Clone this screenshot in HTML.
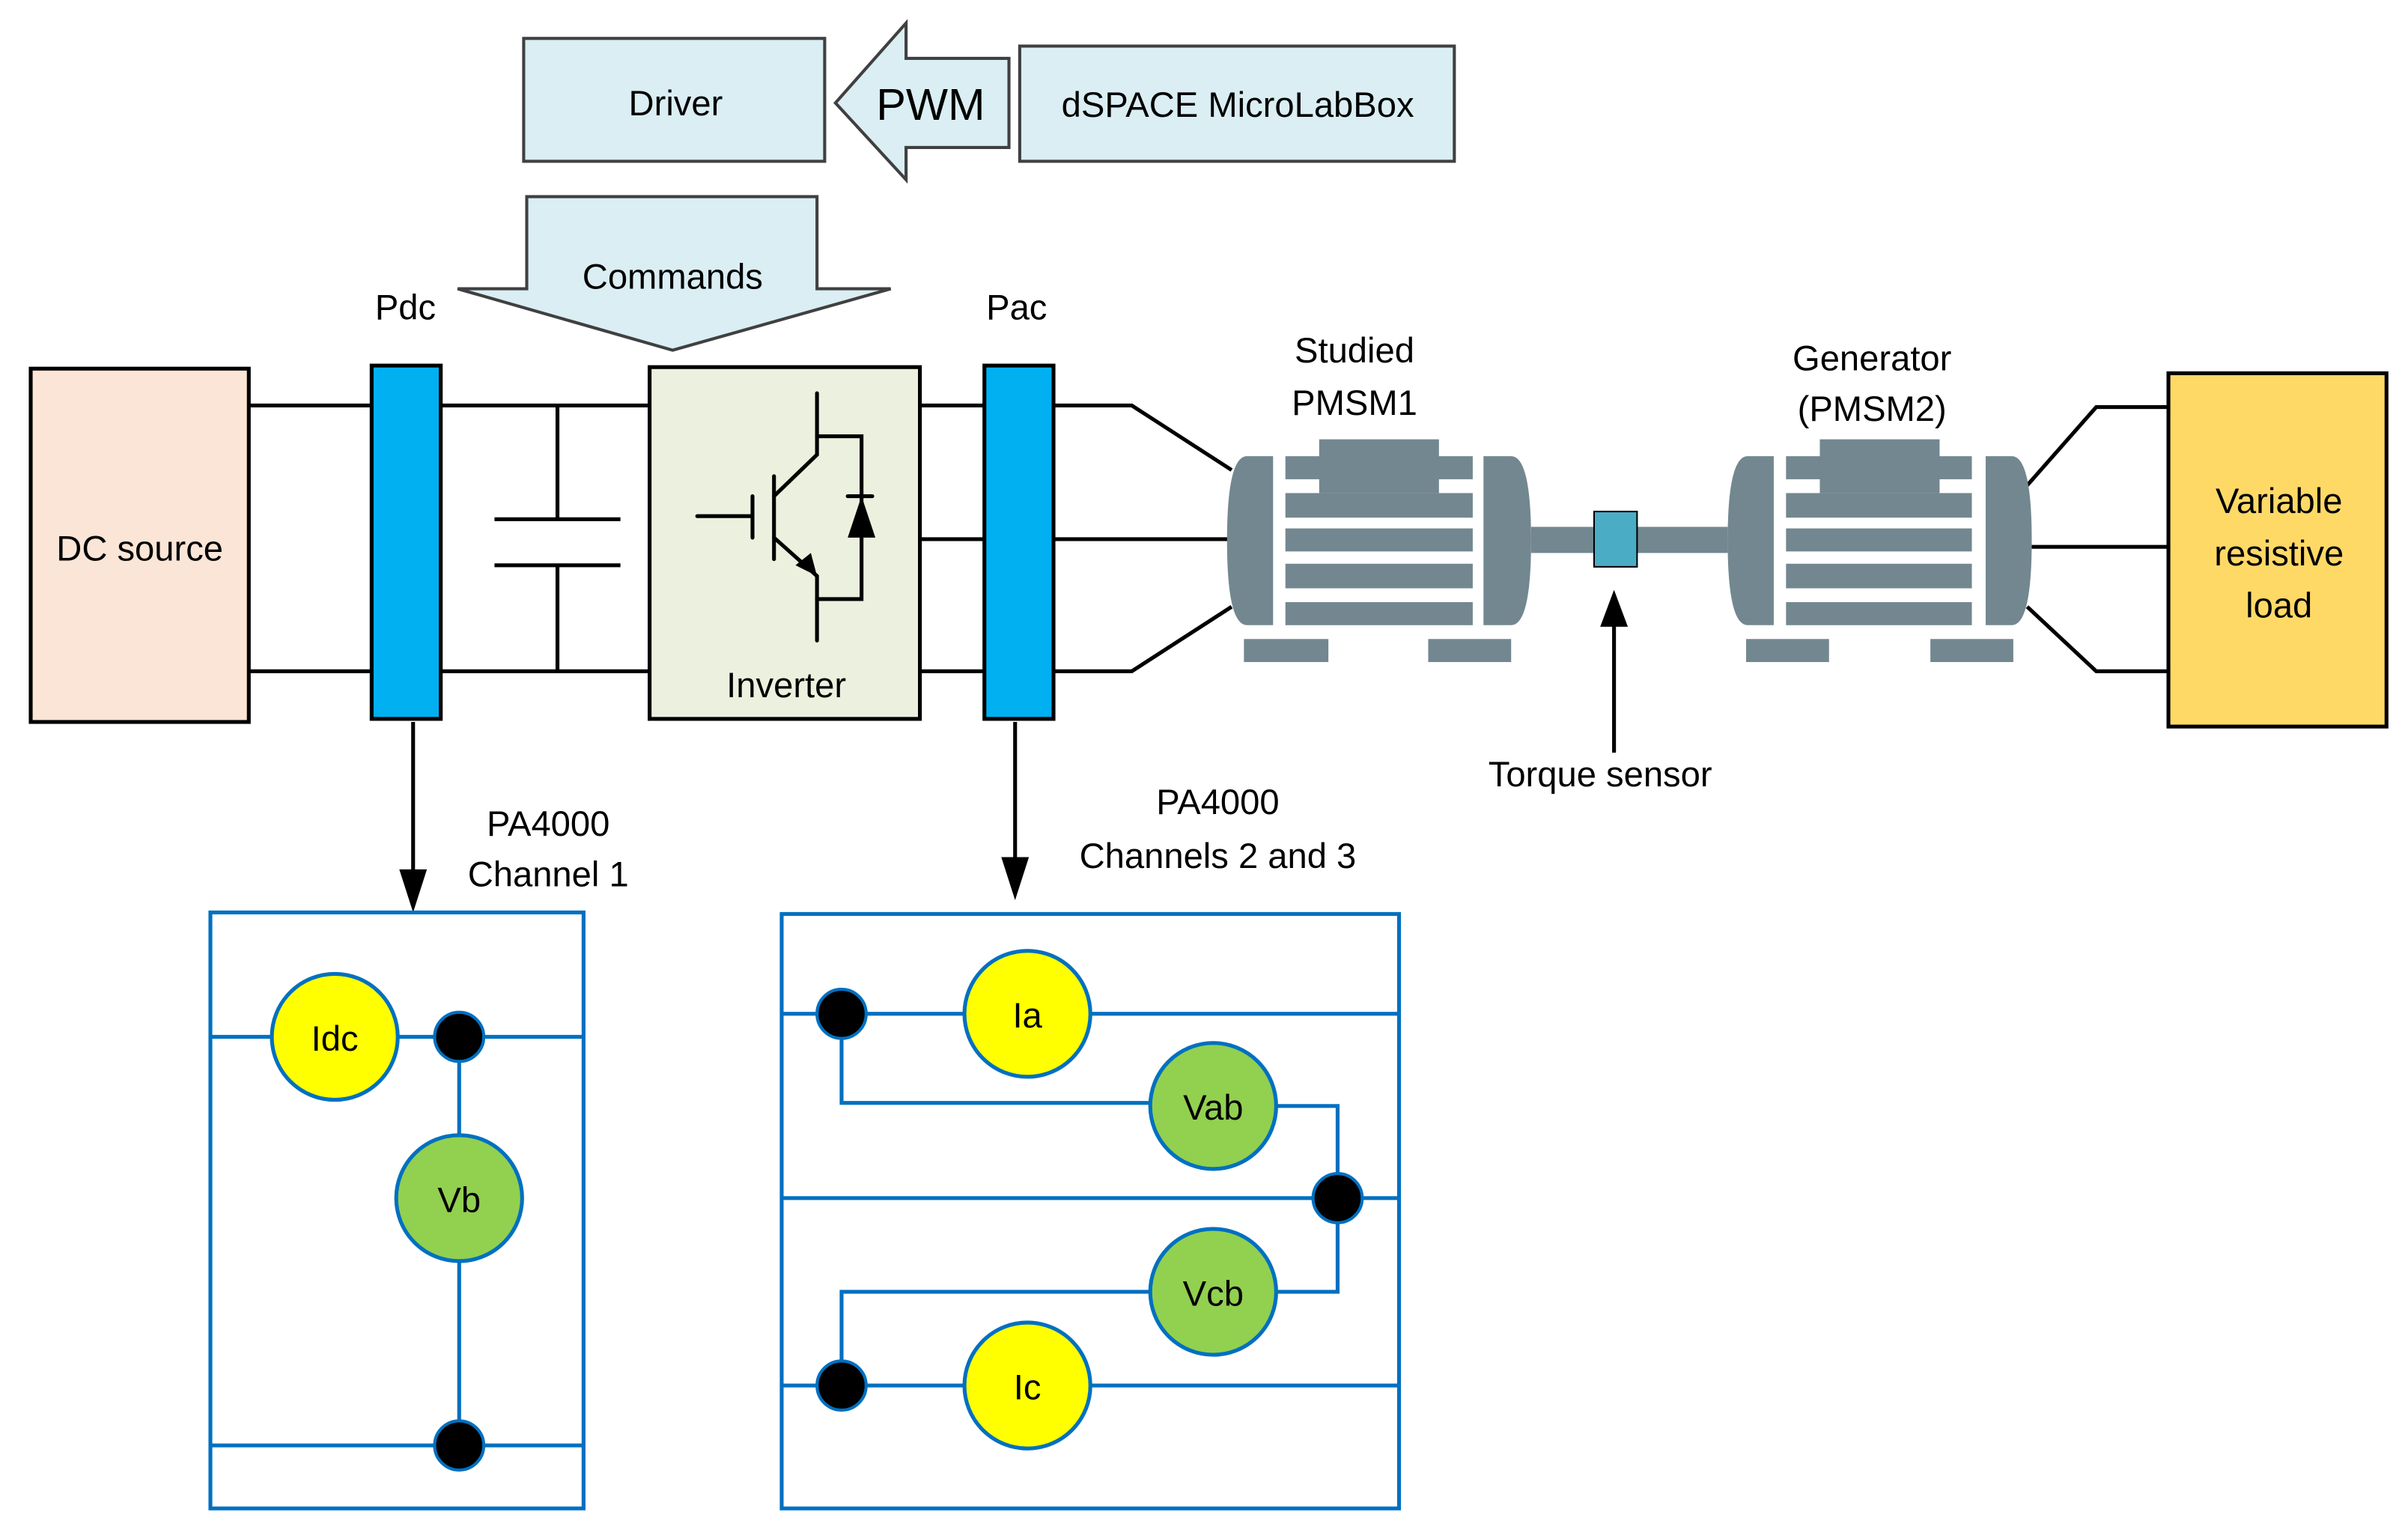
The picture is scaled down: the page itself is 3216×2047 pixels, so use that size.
<!DOCTYPE html>
<html><head><meta charset="utf-8"><style>html,body{margin:0;padding:0;background:#fff}svg{display:block}</style></head>
<body>
<svg width="3216" height="2047" viewBox="0 0 1568 998" preserveAspectRatio="none" xmlns="http://www.w3.org/2000/svg" font-family="Liberation Sans, sans-serif" text-anchor="middle">
<!-- top boxes -->
<rect x="341" y="25" width="196" height="80" fill="#DAEEF3" stroke="#404040" stroke-width="2"/>
<text x="440" y="75" font-size="23">Driver</text>
<polygon points="544,67 590,15 590,38 657,38 657,96 590,96 590,117" fill="#DAEEF3" stroke="#404040" stroke-width="2"/>
<text x="606" y="78" font-size="29">PWM</text>
<rect x="664" y="30" width="283" height="75" fill="#DAEEF3" stroke="#404040" stroke-width="2"/>
<text x="806" y="76" font-size="23">dSPACE MicroLabBox</text>
<polygon points="343,128 532,128 532,188 580,188 438,228 298,188 343,188" fill="#DAEEF3" stroke="#404040" stroke-width="2"/>
<text x="438" y="188" font-size="23">Commands</text>
<text x="264" y="208" font-size="23">Pdc</text>
<text x="662" y="208" font-size="23">Pac</text>

<!-- wires -->
<g stroke="#000" stroke-width="2.5" fill="none">
<line x1="162" y1="264" x2="242" y2="264"/><line x1="287" y1="264" x2="423" y2="264"/>
<line x1="162" y1="437" x2="242" y2="437"/><line x1="287" y1="437" x2="423" y2="437"/>
<line x1="363" y1="264" x2="363" y2="338"/><line x1="363" y1="368" x2="363" y2="437"/>
<line x1="322" y1="338" x2="404" y2="338"/><line x1="322" y1="368" x2="404" y2="368"/>
<line x1="599" y1="264" x2="641" y2="264"/><line x1="599" y1="351" x2="641" y2="351"/><line x1="599" y1="437" x2="641" y2="437"/>
<polyline points="686,264 737,264 802,306"/><line x1="686" y1="351" x2="800" y2="351"/><polyline points="686,437 737,437 802,395"/>
<polyline points="1320,316 1365,265 1412,265"/><line x1="1323" y1="356" x2="1412" y2="356"/><polyline points="1320,395 1365,437 1412,437"/>
<line x1="269" y1="470" x2="269" y2="570"/><line x1="661" y1="470" x2="661" y2="562"/>
<line x1="1051" y1="490" x2="1051" y2="405"/>
</g>
<polygon points="260,566 278,566 269,594" fill="#000"/>
<polygon points="652,558 670,558 661,586" fill="#000"/>
<polygon points="1042,408 1060,408 1051,384" fill="#000"/>

<!-- DC source -->
<rect x="20" y="240" width="142" height="230" fill="#FBE5D6" stroke="#000" stroke-width="2.5"/>
<text x="91" y="365" font-size="23">DC source</text>
<rect x="242" y="238" width="45" height="230" fill="#00B0F0" stroke="#000" stroke-width="2.5"/>
<rect x="641" y="238" width="45" height="230" fill="#00B0F0" stroke="#000" stroke-width="2.5"/>

<!-- inverter -->
<rect x="423" y="239" width="176" height="229" fill="#EBF1DE" stroke="#000" stroke-width="2.5"/>
<g stroke="#000" stroke-width="2.5" fill="none" stroke-linecap="round">
<polyline points="532,256 532,296 504,323"/>
<line x1="504" y1="310" x2="504" y2="364"/>
<line x1="490" y1="323" x2="490" y2="350"/>
<line x1="454" y1="336" x2="490" y2="336"/>
<polyline points="504,350 532,375 532,417"/>
<polyline points="532,284 561,284 561,390 532,390"/>
<line x1="552" y1="323" x2="568" y2="323"/>
</g>
<polygon points="532,375 518,368 528,360" fill="#000"/>
<polygon points="561,323 552,350 570,350" fill="#000"/>
<text x="512" y="454" font-size="23">Inverter</text>

<!-- motors -->
<g fill="#738790">
<path d="M812,297 L829,297 L829,407 L812,407 Q799,407 799,352 Q799,297 812,297Z"/>
<rect x="837" y="297" width="122" height="15"/><rect x="837" y="321" width="122" height="16"/>
<rect x="859" y="286" width="78" height="35"/>
<rect x="837" y="344" width="122" height="15"/><rect x="837" y="367" width="122" height="16"/><rect x="837" y="392" width="122" height="15"/>
<path d="M966,297 L984,297 Q997,297 997,352 Q997,407 984,407 L966,407Z"/>
<rect x="997" y="343" width="128" height="17"/>
<rect x="810" y="416" width="55" height="15"/><rect x="930" y="416" width="54" height="15"/>
<path d="M1138,297 L1155,297 L1155,407 L1138,407 Q1125,407 1125,352 Q1125,297 1138,297Z"/>
<rect x="1163" y="297" width="121" height="15"/><rect x="1163" y="321" width="121" height="16"/>
<rect x="1185" y="286" width="78" height="35"/>
<rect x="1163" y="344" width="121" height="15"/><rect x="1163" y="367" width="121" height="16"/><rect x="1163" y="392" width="121" height="15"/>
<path d="M1293,297 L1310,297 Q1323,297 1323,352 Q1323,407 1310,407 L1293,407Z"/>
<rect x="1137" y="416" width="54" height="15"/><rect x="1257" y="416" width="54" height="15"/>
</g>
<rect x="1038" y="333" width="28" height="36" fill="#4BACC6" stroke="#000" stroke-width="1"/>
<text x="882" y="236" font-size="23">Studied</text>
<text x="882" y="270" font-size="23">PMSM1</text>
<text x="1219" y="241" font-size="23">Generator</text>
<text x="1219" y="274" font-size="23">(PMSM2)</text>
<text x="1042" y="512" font-size="23">Torque sensor</text>

<rect x="1412" y="243" width="142" height="230" fill="#FFD966" stroke="#000" stroke-width="2.5"/>
<text x="1484" y="334" font-size="23">Variable</text>
<text x="1484" y="368" font-size="23">resistive</text>
<text x="1484" y="402" font-size="23">load</text>

<text x="357" y="544" font-size="23">PA4000</text>
<text x="357" y="577" font-size="23">Channel 1</text>
<text x="793" y="530" font-size="23">PA4000</text>
<text x="793" y="565" font-size="23">Channels 2 and 3</text>

<!-- box 1 -->
<g stroke="#0070C0" stroke-width="2.5" fill="none">
<rect x="137" y="594" width="243" height="388"/>
<line x1="137" y1="675" x2="380" y2="675"/><line x1="137" y1="941" x2="380" y2="941"/>
<line x1="299" y1="675" x2="299" y2="941"/>
<rect x="509" y="595" width="402" height="387"/>
<line x1="509" y1="660" x2="911" y2="660"/>
<line x1="509" y1="780" x2="911" y2="780"/>
<line x1="509" y1="902" x2="911" y2="902"/>
<polyline points="548,660 548,718 790,718"/>
<polyline points="790,720 871,720 871,841 790,841"/>
<polyline points="790,841 548,841 548,902"/>
</g>
<g stroke="#0070C0" stroke-width="2.5">
<circle cx="218" cy="675" r="41" fill="#FFFF00"/>
<circle cx="299" cy="780" r="41" fill="#92D050"/>
<circle cx="669" cy="660" r="41" fill="#FFFF00"/>
<circle cx="790" cy="720" r="41" fill="#92D050"/>
<circle cx="790" cy="841" r="41" fill="#92D050"/>
<circle cx="669" cy="902" r="41" fill="#FFFF00"/>
</g>
<g fill="#000" stroke="#0070C0" stroke-width="2">
<circle cx="299" cy="675" r="16"/><circle cx="299" cy="941" r="16"/>
<circle cx="548" cy="660" r="16"/><circle cx="871" cy="780" r="16"/><circle cx="548" cy="902" r="16"/>
</g>
<g font-size="23">
<text x="218" y="684">Idc</text><text x="299" y="789">Vb</text>
<text x="669" y="669">Ia</text><text x="790" y="729">Vab</text>
<text x="790" y="850">Vcb</text><text x="669" y="911">Ic</text>
</g>
</svg>
</body></html>
